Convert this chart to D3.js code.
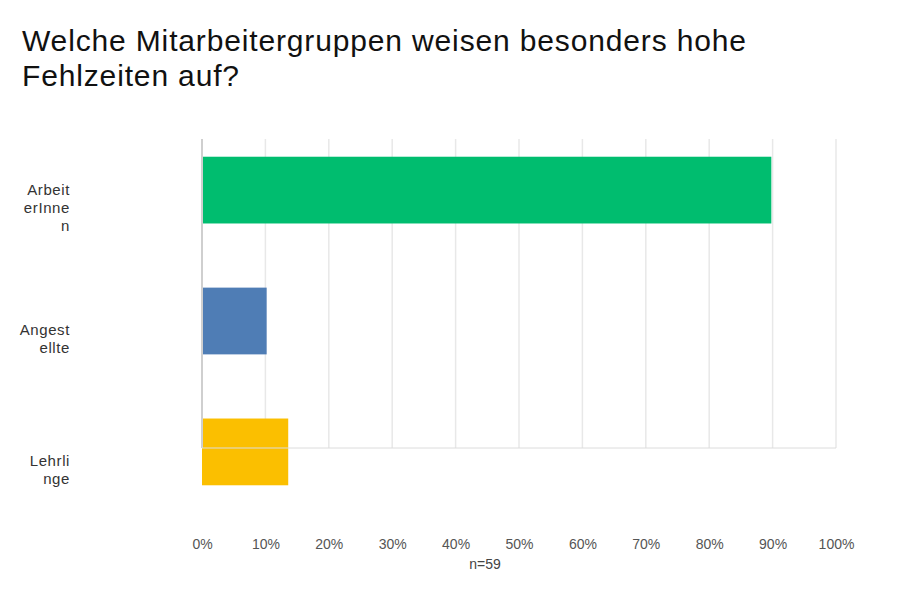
<!DOCTYPE html>
<html>
<head>
<meta charset="utf-8">
<script src="https://cdn.jsdelivr.net/npm/d3@7/dist/d3.min.js"></script>
<style>
  html, body { margin: 0; padding: 0; background: #fff; }
  svg { display: block; }
</style>
</head>
<body>
<script>
// ---- data ----
const titleLines = ["Welche Mitarbeitergruppen weisen besonders hohe", "Fehlzeiten auf?"];
const categories = ["ArbeiterInnen", "Angestellte", "Lehrlinge"];
const labelLines = [["Arbeit", "erInne", "n"], ["Angest", "ellte"], ["Lehrli", "nge"]];
const values = [89.8, 10.2, 13.6];
const colors = ["#00BD6F", "#4F7DB5", "#FBBF00"];
const tickValues = [0, 10, 20, 30, 40, 50, 60, 70, 80, 90, 100];
const tickLabels = ["0%", "10%", "20%", "30%", "40%", "50%", "60%", "70%", "80%", "90%", "100%"];
const note = "n=59";

const W = 900, H = 593;
const FONT = "'Liberation Sans', Arial, sans-serif";
const svg = d3.select("body").append("svg").attr("width", W).attr("height", H);

// title
svg.append("g").selectAll("text").data(titleLines).join("text")
  .attr("x", 22).attr("y", (d, i) => 51 + i * 35)
  .attr("font-family", FONT)
  .attr("font-size", 30)
  .attr("letter-spacing", 0.85)
  .attr("fill", "#111")
  .text(d => d);

const x = d3.scaleLinear().domain([0, 100]).range([202, 836]);
const y = d3.scaleBand().domain(categories).range([124, 518]).paddingInner(0.49).paddingOuter(0.25);

const plotTop = 139, plotBottom = 448;

// gridlines
svg.append("g").selectAll("line").data(tickValues.slice(1)).join("line")
  .attr("x1", d => x(d)).attr("x2", d => x(d))
  .attr("y1", plotTop).attr("y2", plotBottom)
  .attr("stroke", "#e8e8e8").attr("stroke-width", 1.5);

// bars
svg.append("g").selectAll("rect").data(categories).join("rect")
  .attr("x", x(0))
  .attr("y", d => y(d))
  .attr("width", (d, i) => x(values[i]) - x(0))
  .attr("height", y.bandwidth())
  .attr("fill", (d, i) => colors[i]);

// zero axis line
svg.append("line")
  .attr("x1", x(0)).attr("x2", x(0))
  .attr("y1", plotTop).attr("y2", plotBottom)
  .attr("stroke", "#cfcfcf").attr("stroke-width", 2);

// bottom line
svg.append("line")
  .attr("x1", x(0)).attr("x2", x(100))
  .attr("y1", plotBottom).attr("y2", plotBottom)
  .attr("stroke", "#dcdcdc").attr("stroke-width", 1);

// category labels
const lab = svg.append("g");
categories.forEach((c, i) => {
  const lines = labelLines[i];
  const cy = y(c) + y.bandwidth() / 2 + 18;
  lab.append("g").selectAll("text").data(lines).join("text")
    .attr("x", 70)
    .attr("y", (d, j) => cy + (j - (lines.length - 1) / 2) * 18 + 5)
    .attr("text-anchor", "end")
    .attr("font-family", FONT)
    .attr("font-size", 15)
    .attr("letter-spacing", 0.6)
    .attr("fill", "#333")
    .text(d => d);
});

// x axis tick labels
const xAxis = d3.axisBottom(x).tickValues(tickValues).tickFormat((d, i) => tickLabels[i]).tickSize(0).tickPadding(0);
const ax = svg.append("g").attr("transform", "translate(0,539)").call(xAxis);
ax.select(".domain").remove();
ax.selectAll("text")
  .attr("font-family", FONT)
  .attr("font-size", 14)
  .attr("fill", "#555");

// note
svg.append("text")
  .attr("x", 485).attr("y", 569)
  .attr("text-anchor", "middle")
  .attr("font-family", FONT)
  .attr("font-size", 14)
  .attr("fill", "#444")
  .text(note);
</script>
</body>
</html>
